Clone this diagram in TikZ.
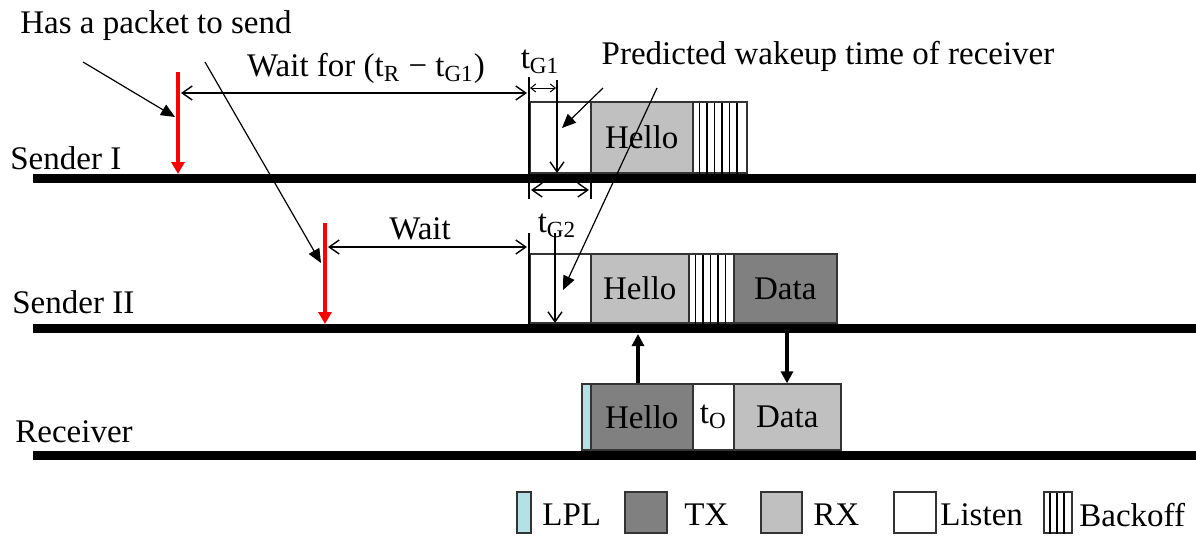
\documentclass[tikz,border=0pt]{standalone}
\usepackage{fontspec}
\setmainfont{Liberation Serif}
\usetikzlibrary{arrows.meta}
\definecolor{txgray}{HTML}{808080}
\definecolor{rxgray}{HTML}{C0C0C0}
\definecolor{lplcyan}{HTML}{B4E1E6}
\definecolor{edgegray}{HTML}{333333}
\begin{document}
\begin{tikzpicture}[x=0.5pt,y=-0.5pt,
  font=\fontsize{16.5}{19.5}\selectfont,
  timeline/.style={line width=4.5pt},
  seg/.style={draw=edgegray, line width=0.8pt, inner sep=0pt, anchor=south west},
  txbox/.style={seg, fill=txgray},
  rxbox/.style={seg, fill=rxgray},
  lplbox/.style={seg, fill=lplcyan},
  listenbox/.style={seg, fill=white},
  backbox/.style={seg, fill=white},
  stripe/.style={line width=0.8pt},
  thin/.style={line width=0.7pt},
  dimarrow/.style={thin, {Straight Barb[length=5pt,width=7pt]}-{Straight Barb[length=5pt,width=7pt]}},
  tinyarrow/.style={line width=0.5pt, {Straight Barb[length=2.5pt,width=4pt]}-{Straight Barb[length=2.5pt,width=4pt]}},
  wakearrow/.style={thin, -{Straight Barb[length=5pt,width=7pt]}},
  pointer/.style={line width=0.6pt, -{Triangle[length=7pt,width=6pt]}},
  packet/.style={red, line width=1.6pt, -{Triangle[length=6pt,width=6.5pt]}},
  msg/.style={line width=1.6pt, -{Triangle[length=6pt,width=6pt]}},
  tag/.style={inner sep=0pt}
]
\useasboundingbox (0,0) rectangle (1196,536);

% ---------- time lines ----------
\coordinate (l1s) at (33,178);  \coordinate (l1e) at (1196,178);
\coordinate (l2s) at (33,328);  \coordinate (l2e) at (1196,328);
\coordinate (l3s) at (33,455);  \coordinate (l3e) at (1196,455);
\draw[timeline] (l1s) -- (l1e);
\draw[timeline] (l2s) -- (l2e);
\draw[timeline] (l3s) -- (l3e);

\node[tag, anchor=west] (lab1) at (10,158) {Sender I};
\node[tag, anchor=west] (lab2) at (12,302) {Sender II};
\node[tag, anchor=west] (lab3) at (15,432) {Receiver};

% ---------- Sender I ----------
\node[listenbox, minimum width=30.5pt, minimum height=35.5pt] (s1listen) at (529,174) {};
\node[rxbox, minimum width=51pt, minimum height=35.5pt] (s1hello) at (590,174) {Hello};
\node[backbox, minimum width=27pt, minimum height=35.5pt] (s1back) at (692,174) {};
\foreach \sx in {699.5,707,714.5,722,729.5,737}
  \draw[stripe] (\sx,103) -- (\sx,174);

% ---------- Sender II ----------
\node[listenbox, minimum width=30.5pt, minimum height=34.5pt] (s2listen) at (529,324) {};
\node[rxbox, minimum width=49pt, minimum height=34.5pt] (s2hello) at (590,324) {Hello};
\node[backbox, minimum width=22.5pt, minimum height=34.5pt] (s2back) at (688,324) {};
\foreach \sx in {695.5,703,710.5,718,725.5}
  \draw[stripe] (\sx,255) -- (\sx,324);
\node[txbox, minimum width=51.5pt, minimum height=34.5pt] (s2data) at (733,324) {Data};

% ---------- Receiver ----------
\node[lplbox, minimum width=4.5pt, minimum height=33pt] (rlpl) at (581,451) {};
\node[txbox, minimum width=51pt, minimum height=33pt] (rhello) at (590,451) {Hello};
\node[listenbox, minimum width=20.5pt, minimum height=33pt] (rto) at (692,451) {t\textsubscript{O}};
\node[rxbox, minimum width=53.5pt, minimum height=33pt] (rdata) at (733,451) {Data};

% ---------- packet arrivals ----------
\coordinate (p1top) at (178,72);  \coordinate (p1tip) at (178,174);
\coordinate (p2top) at (325,223); \coordinate (p2tip) at (325,324);
\draw[packet] (p1top) -- (p1tip);
\draw[packet] (p2top) -- (p2tip);

\node[tag] (hasp) at (156,26) {Has a packet to send};
\coordinate (h1a) at (83,62);  \coordinate (h1b) at (175,117);
\coordinate (h2a) at (205,62); \coordinate (h2b) at (321,263);
\draw[pointer] (h1a) -- (h1b);
\draw[pointer] (h2a) -- (h2b);

% ---------- waiting intervals ----------
\coordinate (w1a) at (181,93);  \coordinate (w1b) at (527,93);
\draw[dimarrow] (w1a) -- (w1b);
\node[tag] (w1lab) at (366,68) {Wait for (t\textsubscript{R} − t\textsubscript{G1})};

\coordinate (w2a) at (328,247); \coordinate (w2b) at (527,247);
\draw[dimarrow] (w2a) -- (w2b);
\node[tag] (w2lab) at (420,229) {Wait};

% ---------- guard times ----------
\coordinate (g1top) at (529,77);  \coordinate (g1bot) at (529,199);
\draw[thin] (g1top) -- (g1bot);
\coordinate (g2top) at (591,178); \coordinate (g2bot) at (591,199);
\draw[thin] (g2top) -- (g2bot);
\coordinate (tg2a) at (531,190); \coordinate (tg2b) at (589,190);
\draw[dimarrow] (tg2a) -- (tg2b);
\node[tag] (tg2lab) at (557,226) {t\textsubscript{G2}};

\coordinate (tg1a) at (530,88); \coordinate (tg1b) at (556,88);
\draw[tinyarrow] (tg1a) -- (tg1b);
\node[tag] (tg1lab) at (540,62) {t\textsubscript{G1}};

\coordinate (g3top) at (529,233); \coordinate (g3bot) at (529,324);
\draw[thin] (g3top) -- (g3bot);

% ---------- predicted wakeup ----------
\coordinate (k1a) at (557,80);  \coordinate (k1b) at (557,173);
\draw[wakearrow] (k1a) -- (k1b);
\coordinate (k2a) at (555,233); \coordinate (k2b) at (555,323);
\draw[wakearrow] (k2a) -- (k2b);

\node[tag] (pred) at (828,56) {Predicted wakeup time of receiver};
\coordinate (q1a) at (603,88); \coordinate (q1b) at (562,128);
\coordinate (q2a) at (657,88); \coordinate (q2b) at (563,290);
\draw[pointer] (q1a) -- (q1b);
\draw[pointer] (q2a) -- (q2b);

% ---------- exchange between receiver and Sender II ----------
\coordinate (uptip) at (638,334);
\draw[msg] (rhello.north -| uptip) -- (uptip);
\coordinate (dnstart) at (787,333);
\draw[msg] (dnstart) -- (rdata.north -| dnstart);

% ---------- legend ----------
\node[lplbox, minimum width=7pt, minimum height=20.5pt] (kl) at (516,534) {};
\node[tag, anchor=west] (kltxt) at (542,515) {LPL};
\node[txbox, minimum width=21pt, minimum height=20.5pt] (kt) at (624,534) {};
\node[tag, anchor=west] (kttxt) at (684,515) {TX};
\node[rxbox, minimum width=20.5pt, minimum height=20.5pt] (kr) at (760,534) {};
\node[tag, anchor=west] (krtxt) at (813,515) {RX};
\node[listenbox, minimum width=21pt, minimum height=20.5pt] (ks) at (893,534) {};
\node[tag, anchor=west] (kstxt) at (940,515) {Listen};
\node[backbox, minimum width=14pt, minimum height=20.5pt] (kb) at (1043,534) {};
\foreach \sx in {1050,1057,1064}
  \draw[stripe] (\sx,493) -- (\sx,534);
\node[tag, anchor=west] (kbtxt) at (1079,515) {Backoff};
\end{tikzpicture}
\end{document}
